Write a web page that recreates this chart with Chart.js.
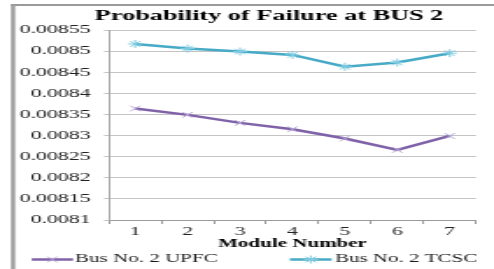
<!DOCTYPE html>
<html>
<head>
<meta charset="utf-8">
<script src="https://cdn.jsdelivr.net/npm/chart.js@4/dist/chart.umd.min.js"></script>
<style>
  html, body { margin: 0; padding: 0; background: #ffffff; overflow: hidden; }
</style>
</head>
<body>
<canvas id="c" width="282" height="269" style="display:block;width:494px;height:269px;"></canvas>
<script>
// ---- data ----
const categories = ['1', '2', '3', '4', '5', '6', '7'];
const upfcValues = [0.008364, 0.008349, 0.008330, 0.008315, 0.008293, 0.008266, 0.008299];
const tcscValues = [0.008517, 0.008506, 0.008499, 0.008491, 0.008463, 0.008473, 0.008495];
const yTickLabels = ['0.0081', '0.00815', '0.0082', '0.00825', '0.0083', '0.00835', '0.0084', '0.00845', '0.0085', '0.00855'];
const seriesNames = ['Bus No. 2 UPFC', 'Bus No. 2 TCSC'];
const chartTitle = 'Probability of Failure at BUS 2';
const xAxisTitle = 'Module Number';
const yMin = 0.0081, yMax = 0.00855, yStep = 0.00005;

const SERIF = "'Liberation Serif', 'Times New Roman', serif";

const framePlugin = {
  id: 'frame',
  afterLayout(chart) {
    if (chart.titleBlock) {
      chart.titleBlock.left = 35.5;
      chart.titleBlock.right = 271.7;
    }
  },
  beforeDraw(chart) {
    const ctx = chart.ctx;
    ctx.save();
    ctx.fillStyle = '#ffffff';
    ctx.fillRect(0, 0, chart.width, chart.height);
    ctx.fillStyle = '#9a9a9a';
    ctx.fillRect(6.3, 4, 2.3, chart.height - 4);
    ctx.fillRect(6.3, 4, chart.width - 6.3, 2);
    ctx.restore();
  }
};

const legendPlugin = {
  id: 'customLegend',
  afterDraw(chart) {
    const ctx = chart.ctx;
    const spots = [{x0: 18.1, x1: 41.7, tx: 42.8}, {x0: 165.5, x1: 189.3, tx: 191.2}];
    const y = 259.5;
    chart.data.datasets.forEach((ds, i) => {
      const s = spots[i];
      ctx.save();
      ctx.strokeStyle = ds.borderColor;
      ctx.lineWidth = 2.5;
      ctx.beginPath();
      ctx.moveTo(s.x0, y);
      ctx.lineTo(s.x1, y);
      ctx.stroke();
      ctx.strokeStyle = ds.pointBorderColor;
      ctx.lineWidth = 1;
      Chart.helpers.drawPoint(ctx, {pointStyle: ds.pointStyle, radius: 4, borderWidth: 1, rotation: 0}, (s.x0 + s.x1) / 2, y);
      ctx.fillStyle = '#1a1a1a';
      ctx.font = '12px ' + SERIF;
      ctx.textBaseline = 'middle';
      ctx.textAlign = 'left';
      ctx.fillText(ds.label, s.tx, y - 0.5);
      ctx.restore();
    });
  }
};

new Chart(document.getElementById('c'), {
  type: 'line',
  data: {
    labels: categories,
    datasets: [
      {
        label: seriesNames[0],
        data: upfcValues,
        borderColor: '#7f62a8',
        borderWidth: 2.5,
        pointStyle: 'crossRot',
        pointRadius: 4,
        pointBorderWidth: 1,
        pointBorderColor: '#b6a6d6',
        pointBackgroundColor: '#b6a6d6',
        tension: 0,
        fill: false
      },
      {
        label: seriesNames[1],
        data: tcscValues,
        borderColor: '#47aac7',
        borderWidth: 2.5,
        pointStyle: 'star',
        pointRadius: 4,
        pointBorderWidth: 1,
        pointBorderColor: '#7fcbe2',
        pointBackgroundColor: '#7fcbe2',
        tension: 0,
        fill: false
      }
    ]
  },
  options: {
    responsive: false,
    devicePixelRatio: 1,
    animation: false,
    events: [],
    layout: { padding: { left: 5, right: 10.3, top: 0, bottom: 18 } },
    plugins: {
      legend: { display: false },
      tooltip: { enabled: false },
      title: {
        display: true,
        text: chartTitle,
        color: '#000000',
        font: { family: SERIF, size: 15, weight: 'bold', lineHeight: 1.2 },
        padding: { top: 7.6, bottom: 4.4 }
      }
    },
    scales: {
      x: {
        type: 'category',
        offset: true,
        afterFit: (s) => { s.height = 31; },
        grid: { display: true, drawOnChartArea: false, drawTicks: true, tickLength: 4, offset: true, color: '#9a9a9a' },
        border: { display: true, color: '#9a9a9a', width: 1 },
        ticks: { color: '#222222', font: { family: SERIF, size: 12.5 }, padding: 0.5, maxRotation: 0, autoSkip: false },
        title: {
          display: true,
          text: xAxisTitle,
          color: '#000000',
          font: { family: SERIF, size: 12, weight: 'bold', lineHeight: 1.2 },
          padding: { top: 0, bottom: 0 }
        }
      },
      y: {
        type: 'linear',
        min: yMin,
        max: yMax,
        afterFit: (s) => { s.width = 57.2; },
        grid: { color: '#c4c4c4', lineWidth: 1, drawTicks: true, tickLength: 2.85 },
        border: { display: true, color: '#a8a8a8', width: 1 },
        ticks: {
          stepSize: yStep,
          color: '#222222',
          font: { family: SERIF, size: 12.5 },
          padding: 7.5,
          callback: (v, i) => yTickLabels[i]
        }
      }
    }
  },
  plugins: [framePlugin, legendPlugin]
});
</script>
</body>
</html>
